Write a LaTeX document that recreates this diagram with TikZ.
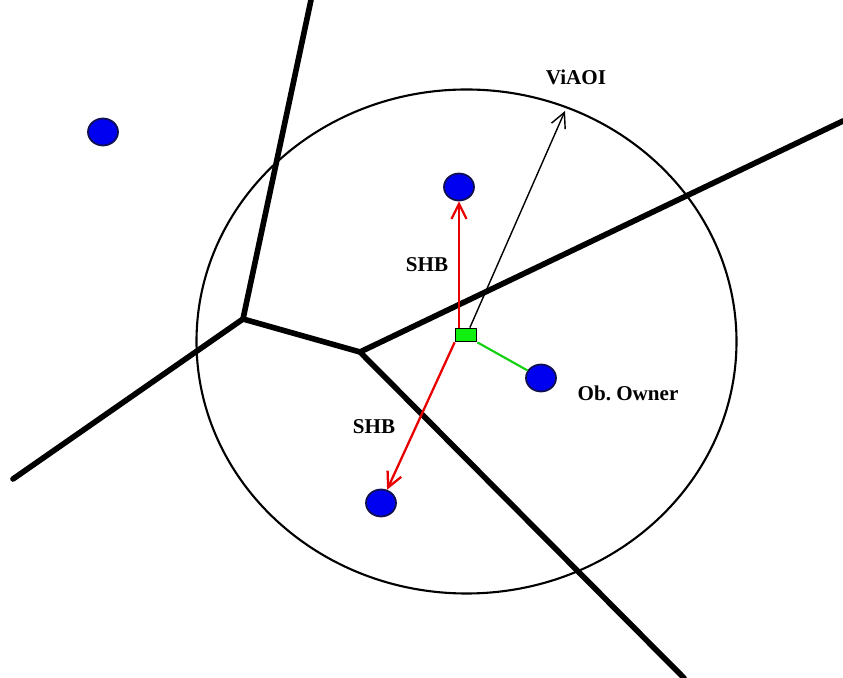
\documentclass[tikz,border=0pt]{standalone}
\usepackage{fontspec}
\setmainfont{Liberation Serif}
\usetikzlibrary{arrows.meta,shapes.geometric}
\definecolor{dotblue}{HTML}{0000F0}
\definecolor{dotrim}{HTML}{101050}
\definecolor{shbred}{HTML}{E80000}
\definecolor{ownergreen}{HTML}{10D010}
\definecolor{sqgreen}{HTML}{10F010}

\begin{document}
\begin{tikzpicture}[
  x=0.02cm,y=-0.02cm,
  cell/.style={line width=3.2pt,line cap=round},
  peer/.style={ellipse,draw=dotrim,fill=dotblue,line width=1pt,
               minimum width=0.6cm,minimum height=0.54cm,inner sep=0pt},
  avatar/.style={rectangle,draw=black,fill=sqgreen,line width=1pt,
                 minimum width=0.42cm,minimum height=0.26cm,inner sep=0pt},
  shb/.style={-{Straight Barb[length=3mm,width=3mm]},shbred,line width=1.3pt},
  rad/.style={-{Straight Barb[length=3mm,width=3mm]},black,line width=0.8pt},
  lbl/.style={font=\fontsize{12}{14}\selectfont\bfseries,inner sep=1pt}
]
  \useasboundingbox (0,0) rectangle (843,678);

  \coordinate (va) at (243,319);
  \coordinate (vb) at (360,352);
  \coordinate (top) at (311,0);
  \coordinate (left) at (13,479);
  \coordinate (right) at (843,121);
  \coordinate (bottom) at (684,678);
  \coordinate (rim) at (565,111);

  \draw[cell] (top) -- (va) -- (left);
  \draw[cell] (va) -- (vb) -- (right);
  \draw[cell] (vb) -- (bottom);

  \draw[line width=1.2pt] (466.5,341.5) ellipse [x radius=270,y radius=252];

  \node[peer] (far) at (103,132) {};
  \node[peer] (up) at (459,187) {};
  \node[peer] (owner) at (541,378) {};
  \node[peer] (down) at (381,503) {};
  \node[avatar] (sq) at (466,335) {};

  \draw[shb] (sq.north -| up) -- (up);
  \draw[shb] (sq.south west) -- (down);
  \draw[rad] ([xshift=-1.5mm]sq.north east) -- (rim);
  \draw[ownergreen,line width=1.2pt] (sq.south east) -- (owner);

  \node[lbl] (aoi) at (576,77) {ViAOI};
  \node[lbl] (shbup) at (427,265) {SHB};
  \node[lbl] (shbdown) at (374,427) {SHB};
  \node[lbl] (own) at (628,393) {Ob.\ Owner};
\end{tikzpicture}
\end{document}
